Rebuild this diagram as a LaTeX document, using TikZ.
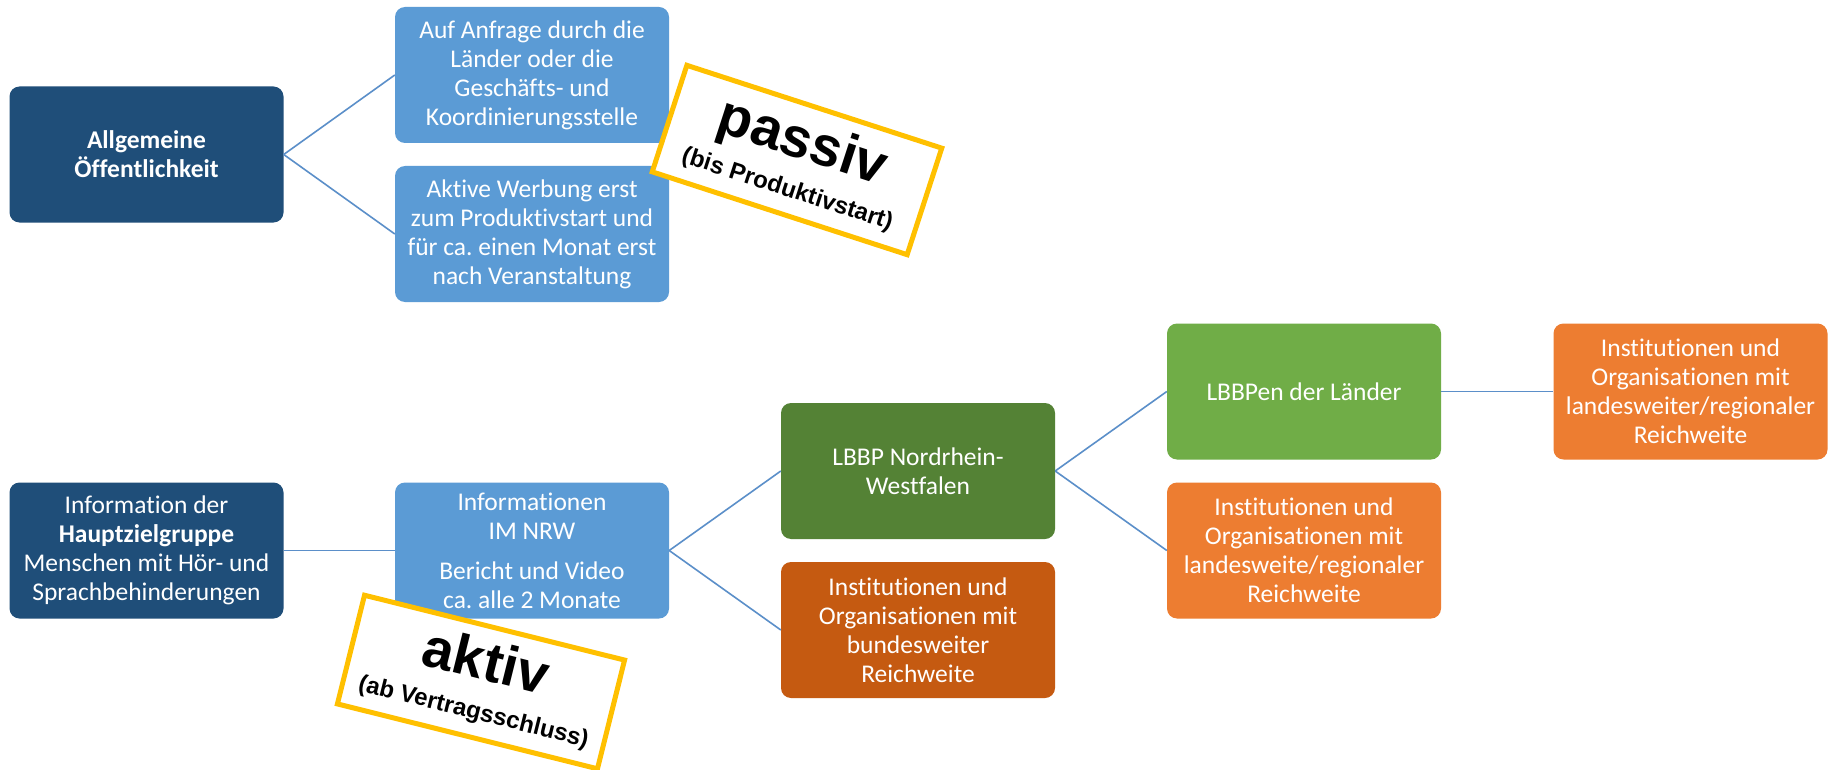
\documentclass[tikz,border=0pt]{standalone}
\usepackage{fontspec}
\newfontfamily\boxfont[Ligatures=NoCommon]{Carlito}
\newfontfamily\stickfont{Liberation Sans}
\frenchspacing
\definecolor{dblue}{HTML}{1F4E79}
\definecolor{lblue}{HTML}{5B9BD5}
\definecolor{dgreen}{HTML}{548235}
\definecolor{lgreen}{HTML}{70AD47}
\definecolor{lorange}{HTML}{ED7D31}
\definecolor{dorange}{HTML}{C55A11}
\definecolor{linec}{HTML}{5B8FC9}
\definecolor{yel}{HTML}{FFC000}
\tikzset{
  box/.style={rounded corners=10pt, minimum width=274pt, minimum height=136pt, inner sep=0pt,
    text=white, align=center, font=\boxfont\fontsize{25.5}{29}\selectfont\frenchspacing},
  conn/.style={draw=linec, line width=1.6pt},
  sticker/.style={draw=yel, line width=5pt, fill=white, minimum width=268pt, minimum height=112pt,
    inner sep=0pt, align=center, font=\stickfont\bfseries\fontsize{24}{40}\selectfont}
}
\begin{document}
\begin{tikzpicture}[x=1pt,y=-1pt]
\useasboundingbox (0,0) rectangle (1833,770);
\fill[white] (0,0) rectangle (1833,770);
% boxes
\node[box, fill=dblue] (allg) at (146.5,154.5) {\bfseries Allgemeine\\\bfseries Öffentlichkeit};
\node[box, fill=lblue] (anf) at (532,75) {Auf Anfrage durch die\\Länder oder die\\Geschäfts- und\\Koordinierungsstelle};
\node[box, fill=lblue] (akt) at (532,234) {Aktive Werbung erst\\zum Produktivstart und\\für ca. einen Monat erst\\nach Veranstaltung};
\node[box, fill=dblue] (info) at (146.5,550.5) {Information der\\\textbf{Hauptzielgruppe}\\Menschen mit Hör- und\\Sprachbehinderungen};
\node[box, fill=lblue] (inf2) at (532,550.5) {Informationen\\IM NRW\\[11pt]Bericht und Video\\ca. alle 2 Monate};
\node[box, fill=dgreen] (nrw) at (918,471) {LBBP Nordrhein-\\Westfalen};
\node[box, fill=dorange] (bund) at (918,630) {Institutionen und\\Organisationen mit\\bundesweiter\\Reichweite};
\node[box, fill=lgreen] (lbbpen) at (1304,391.5) {LBBPen der Länder};
\node[box, fill=lorange] (inst1) at (1304,550.5) {Institutionen und\\Organisationen mit\\landesweite/regionaler\\Reichweite};
\node[box, fill=lorange] (inst2) at (1690.5,391.5) {Institutionen und\\Organisationen mit\\landesweiter/regionaler\\Reichweite};
% connectors
\draw[conn] (allg.east) -- (anf.west);
\draw[conn] (allg.east) -- (akt.west);
\draw[conn] (info.east) -- (inf2.west);
\draw[conn] (inf2.east) -- (nrw.west);
\draw[conn] (inf2.east) -- (bund.west);
\draw[conn] (nrw.east) -- (lbbpen.west);
\draw[conn] (nrw.east) -- (inst1.west);
\draw[conn] (lbbpen.east) -- (inst2.west);
% stickers
\node[sticker, rotate=-18] (passiv) at (797,160) {{\fontsize{56}{40}\selectfont passiv}\\(bis Produktivstart)};
\node[sticker, rotate=-14] (aktiv) at (481,682) {{\fontsize{56}{40}\selectfont aktiv}\\(ab Vertragsschluss)};
\end{tikzpicture}
\end{document}
